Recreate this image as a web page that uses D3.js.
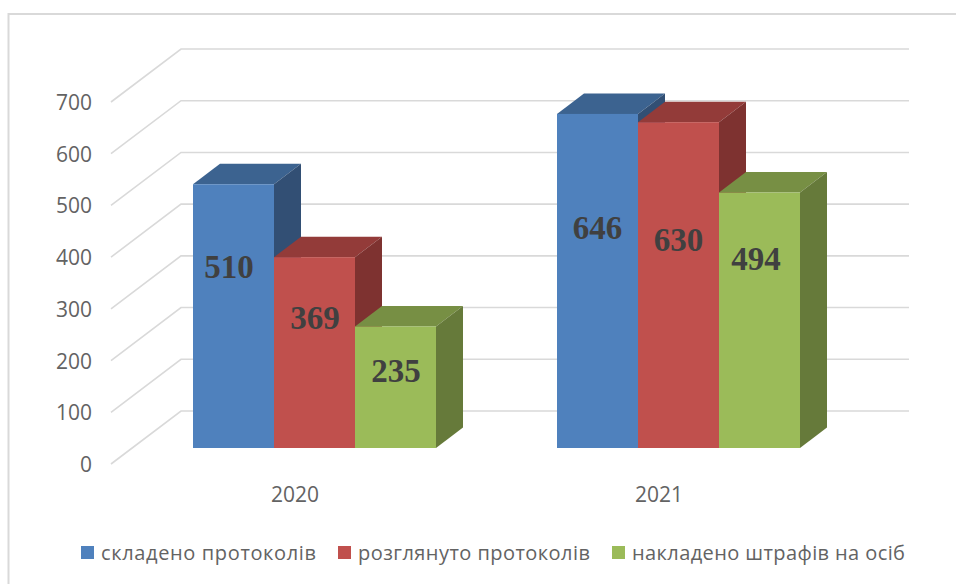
<!DOCTYPE html>
<html><head><meta charset="utf-8">
<script src="https://cdn.jsdelivr.net/npm/d3@7/dist/d3.min.js"></script>
<style>html,body{margin:0;padding:0;background:#fff}svg{display:block}</style>
</head><body><svg id="c" width="956" height="585"></svg>
<script>
const categories = ["2020","2021"];
const seriesNames = ["складено протоколів","розглянуто протоколів","накладено штрафів на осіб"];
const values2020 = [510,369,235];
const values2021 = [646,630,494];
const yTicks = [0,100,200,300,400,500,600,700];
const fronts = ["#4f81bd","#c0504d","#9bbb59"];
const tops = ["#3c6390","#933b39","#778f44"];
const sides = ["#324f74","#7e3230","#667a3a"];

const svg = d3.select("#c");
const y = d3.scaleLinear().domain([0,700]).range([448,86]);
const groupX = d3.scalePoint().domain(categories).range([314.5,678.5]);
const barW = 81;
const dx = 27, dy = 20.5;
const wallDx = 70, wallDy = 53;
const gy = v => y(v) + 16;
const line = d3.line();
const font = "'Open Sans',sans-serif";

// frame
svg.append("path").attr("d","M8.5,584V14H956").attr("fill","none").attr("stroke","#d9d9d9").attr("stroke-width",2);

// gridlines
svg.append("g").selectAll("path").data(yTicks).join("path")
  .attr("d", v => line([[111, gy(v)],[111+wallDx, gy(v)-wallDy],[909, gy(v)-wallDy]]))
  .attr("fill","none").attr("stroke","#d9d9d9").attr("stroke-width",1.6);

// y labels
svg.append("g").selectAll("text").data(yTicks).join("text")
  .attr("x",92).attr("y", v => gy(v)+8).attr("text-anchor","end")
  .attr("font-family",font).attr("font-size",21).attr("fill","#636363")
  .text(d=>d);

// x labels
svg.append("g").selectAll("text").data(categories).join("text")
  .attr("x", c => groupX(c)-19.5).attr("y",501.5).attr("text-anchor","middle")
  .attr("font-family",font).attr("font-size",21).attr("fill","#636363")
  .text(d=>d);

// bars
const groups = [values2020, values2021];
categories.forEach((c,gi) => {
  const left = groupX(c) - barW*1.5;
  groups[gi].forEach((v,i) => {
    const xl = left + i*barW, xr = xl + barW, yt = y(v), yb = y(0);
    const g = svg.append("g");
    g.append("path").attr("d", line([[xl,yt],[xr,yt],[xr+dx,yt-dy],[xl+dx,yt-dy]])+"Z").attr("fill",tops[i]);
    g.append("path").attr("d", line([[xr,yt],[xr+dx,yt-dy],[xr+dx,yb-dy],[xr,yb]])+"Z").attr("fill",sides[i]);
    g.append("rect").attr("x",xl).attr("y",yt).attr("width",barW).attr("height",yb-yt).attr("fill",fronts[i]);
  });
});

// data labels: hand-placed in the reference, offsets from the bar centre
const labelShift2020 = [[-4.5,-38.5],[0.5,-24],[0.5,-5.5]];
const labelShift2021 = [[0,-42],[0,-34],[-3.5,-50]];
const shifts = [labelShift2020, labelShift2021];
categories.forEach((c,gi) => {
  const left = groupX(c) - barW*1.5;
  groups[gi].forEach((v,i) => {
    svg.append("text").attr("x", left+i*barW+barW/2 + shifts[gi][i][0]).attr("y",(y(v)+y(0))/2 + shifts[gi][i][1])
      .attr("text-anchor","middle").attr("font-family","'Liberation Serif',serif")
      .attr("font-weight","bold").attr("font-size",33).attr("fill","#404040").text(v);
  });
});

// legend
const legendX = [81,338,612];
const legendTextLen = [215,232,273];
const lg = svg.append("g").selectAll("g").data(seriesNames).join("g")
  .attr("transform",(d,i)=>`translate(${legendX[i]},546)`);
lg.append("rect").attr("width",13).attr("height",13).attr("fill",(d,i)=>fronts[i]);
lg.append("text").attr("x",20).attr("y",14).attr("font-family",font)
  .attr("font-size",20).attr("fill","#636363")
  .attr("textLength",(d,i)=>legendTextLen[i]).attr("lengthAdjust","spacing").text(d=>d);
</script></body></html>
